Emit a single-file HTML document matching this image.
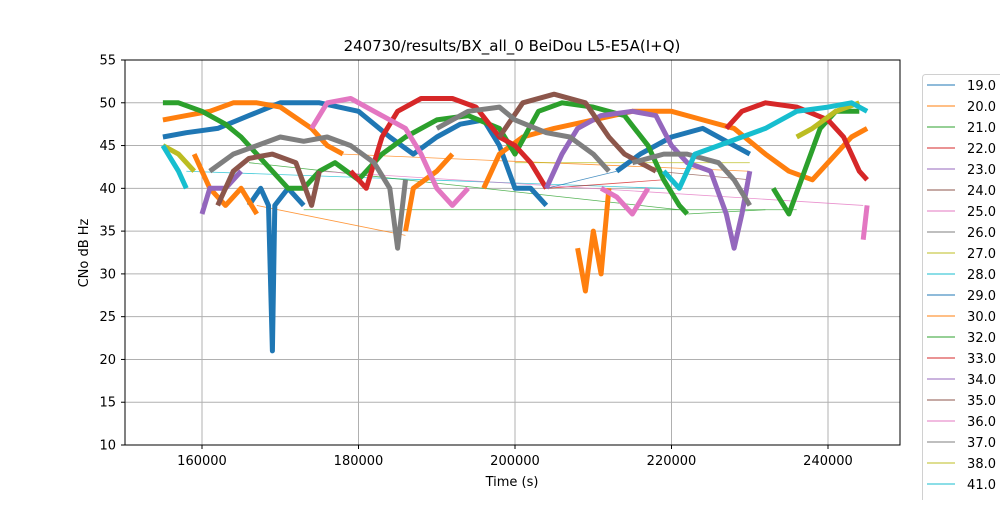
<!DOCTYPE html>
<html><head><meta charset="utf-8"><style>
body{margin:0;background:#fff;font-family:"Liberation Sans","DejaVu Sans",sans-serif}
svg text{font-family:"DejaVu Sans","Liberation Sans",sans-serif}
</style></head><body>
<svg id="chart" width="1000" height="500" viewBox="0 0 1000 500" xmlns="http://www.w3.org/2000/svg">
<rect width="1000" height="500" fill="#fff"/>
<g id="grid"></g>
<g id="series" stroke-linejoin="round" fill="none"></g>
<rect x="125" y="60" width="775" height="385" fill="none" stroke="#000" stroke-width="1"/>
<g id="ticks" font-size="13" fill="#000"></g>
<text x="512" y="51" font-size="15" text-anchor="middle">240730/results/BX_all_0 BeiDou L5-E5A(I+Q)</text>
<text x="512" y="486" font-size="13" text-anchor="middle">Time (s)</text>
<text x="88" y="253" font-size="13" text-anchor="middle" transform="rotate(-90 88 253)">CNo dB Hz</text>
<g id="legend"></g>
</svg>
<script>
const xTicks=[160000,180000,200000,220000,240000];
const yTicks=[10,15,20,25,30,35,40,45,50,55];
const legendLabels=["19.0","20.0","21.0","22.0","23.0","24.0","25.0","26.0","27.0","28.0","29.0","30.0","32.0","33.0","34.0","35.0","36.0","37.0","38.0","41.0","42.0"];
const palette=["#1f77b4","#ff7f0e","#2ca02c","#d62728","#9467bd","#8c564b","#e377c2","#7f7f7f","#bcbd22","#17becf"];
const sBlueT=[155,158,162,166,170,175,180,184,187,190,193,196,198,200,202,204];
const sBlueV=[46,46.5,47,48.5,50,50,49,46,44,46,47.5,48,45,40,40,38];
const sBlue2T=[213,216,220,224,228,230];
const sBlue2V=[42,44,46,47,45,44];
const sBlueSpikeT=[166,167.5,168.5,169,169.3,171,173];
const sBlueSpikeV=[38,40,38,21,38,40,38];
const sOrangeT=[155,158,161,164,167,170,174,176,178];
const sOrangeV=[48,48.5,49,50,50,49.5,47,45,44];
const sOrange2T=[196,198,201,205,210,215,220,224,228,232,235,238,240,243,245];
const sOrange2V=[40,44,46,47,48,49,49,48,47,44,42,41,43,46,47];
const sOrange3T=[159,161,163,165,167];
const sOrange3V=[44,40,38,40,37];
const sOrange4T=[186,187,190,192];
const sOrange4V=[35,40,42,44];
const sOrange5T=[208,209,210,211,212];
const sOrange5V=[33,28,35,30,40];
const sGreenT=[155,157,160,163,165,168,171,173,175,177,180,183,186,190,194,198,200,203,206,210,214,217,219,221,222];
const sGreenV=[50,50,49,47.5,46,43,40,40,42,43,41,44,46,48,48.5,47,44,49,50,49.5,48.5,45,41,38,37];
const sGreen2T=[233,235,237,239,241,244];
const sGreen2V=[40,37,42,47,49,49];
const sRedT=[179,181,183,185,188,192,195,198,200,202,204];
const sRedV=[42,40,46,49,50.5,50.5,49.5,46,45,43,40];
const sRed2T=[227,229,232,236,240,242,244,245];
const sRed2V=[47,49,50,49.5,48,46,42,41];
const sPurpleT=[160,161,163,165];
const sPurpleV=[37,40,40,42];
const sPurple2T=[204,206,208,211,215,218,220,222,225,227,228,229,230];
const sPurple2V=[40,44,47,48.5,49,48.5,45,43,42,37,33,37,42];
const sBrownT=[162,164,166,169,172,174,175];
const sBrownV=[38,42,43.5,44,43,38,42];
const sBrown2T=[198,201,205,209,212,214,216,218];
const sBrown2V=[46,50,51,50,46,44,43,42];
const sPinkT=[174,176,179,182,186,188,190,192,194];
const sPinkV=[47,50,50.5,49,47,44,40,38,40];
const sPink2T=[211,213,215,217];
const sPink2V=[40,39,37,40];
const sPink3T=[244.5,245];
const sPink3V=[34,38];
const sGrayT=[161,164,167,170,173,176,179,182,184,185,186];
const sGrayV=[42,44,45,46,45.5,46,45,43,40,33,41];
const sGray2T=[190,194,198,200,204,207,210,212];
const sGray2V=[47,49,49.5,48,46.5,46,44,42];
const sGray3T=[215,219,222,226,228,230];
const sGray3V=[43,44,44,43,41,38];
const sOliveT=[155,157,159];
const sOliveV=[45,44,42];
const sOlive2T=[236,238,241,244];
const sOlive2V=[46,47,49,50];
const sCyanT=[155,156,157,158];
const sCyanV=[45,43.5,42,40];
const sCyan2T=[219,221,223,226,229,232,236,240,243,245];
const sCyan2V=[42,40,44,45,46,47,49,49.5,50,49];
const bands=[
[0,sBlueT,sBlueV],[0,sBlue2T,sBlue2V],[0,sBlueSpikeT,sBlueSpikeV],
[1,sOrangeT,sOrangeV],[1,sOrange2T,sOrange2V],[1,sOrange3T,sOrange3V],[1,sOrange4T,sOrange4V],[1,sOrange5T,sOrange5V],
[2,sGreenT,sGreenV],[2,sGreen2T,sGreen2V],
[3,sRedT,sRedV],[3,sRed2T,sRed2V],
[4,sPurpleT,sPurpleV],[4,sPurple2T,sPurple2V],
[5,sBrownT,sBrownV],[5,sBrown2T,sBrown2V],
[6,sPinkT,sPinkV],[6,sPink2T,sPink2V],[6,sPink3T,sPink3V],
[7,sGrayT,sGrayV],[7,sGray2T,sGray2V],[7,sGray3T,sGray3V],
[8,sOliveT,sOliveV],[8,sOlive2T,sOlive2V],
[9,sCyanT,sCyanV],[9,sCyan2T,sCyan2V]];
const connT1=[158,167,173,178,204,166,175,218,222,204,200];
const connV1=[42,38,37.5,44,40,43,42,42,37,40,43];
const connT2=[219,186,236,230,219,221,244.5,230,232,213,230];
const connV2=[40,34.5,37.5,42,41,37.5,38,41,37.5,42,43];
const connC=[9,1,2,1,3,2,6,5,2,0,8];
const NS="http://www.w3.org/2000/svg";
const X=v=>202+(v-160000)*0.007825;
const Y=v=>60+(55-v)*8.5556;
const grid=document.getElementById('grid'),ticks=document.getElementById('ticks'),ser=document.getElementById('series'),leg=document.getElementById('legend');
function mk(tag,attrs,parent){const e=document.createElementNS(NS,tag);for(const k in attrs)e.setAttribute(k,attrs[k]);parent.appendChild(e);return e;}
xTicks.forEach(t=>{const x=X(t);
 const g=mk('line',{x1:x,x2:x,y1:60,y2:445,stroke:'#b0b0b0','stroke-width':1},grid);
 
 
 mk('line',{x1:x,x2:x,y1:445,y2:449,stroke:'#000'},ticks);
 const tx=mk('text',{x:x,y:465,'text-anchor':'middle'},ticks);tx.textContent=t;
 
 });
yTicks.forEach(t=>{const y=Y(t);
 const g=mk('line',{x1:125,x2:900,y1:y,y2:y,stroke:'#b0b0b0','stroke-width':1},grid);
 
 
 mk('line',{x1:121,x2:125,y1:y,y2:y,stroke:'#000'},ticks);
 const tx=mk('text',{x:116,y:y+4.5,'text-anchor':'end'},ticks);tx.textContent=t;
 
 });
connT1.forEach((t,i)=>{
 const l=mk('line',{x1:X(connT1[i]*1000),y1:Y(connV1[i]),x2:X(connT2[i]*1000),y2:Y(connV2[i]),stroke:palette[connC[i]],'stroke-width':0.8,opacity:0.8},ser);
 
 });
bands.forEach(b=>{const [c,ts,vs]=b;
 const d=ts.map((t,i)=>(i?'L':'M')+X(t*1000).toFixed(1)+' '+Y(vs[i]).toFixed(1)).join(' ');
 const p=mk('path',{d:d,stroke:palette[c],'stroke-width':5},ser);
 
 });
const lb=mk('rect',{x:922.5,y:74.5,width:90,height:440,rx:3,fill:'#fff',stroke:'#d0d0d0'},leg);


legendLabels.forEach((s,i)=>{const y=85+i*21;
 const g=mk('g',{},leg);
 
 
 mk('line',{x1:927,x2:955,y1:y,y2:y,stroke:palette[i%10],'stroke-width':1},g);
 const tx=mk('text',{x:996,y:y+5,'text-anchor':'end','font-size':13},g);tx.textContent=s;});
</script>
</body></html>
